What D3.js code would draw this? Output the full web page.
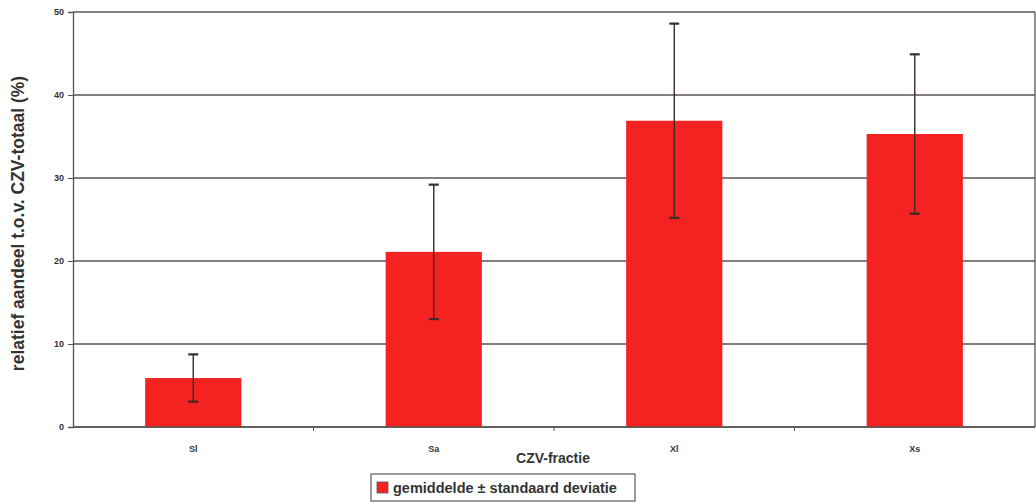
<!DOCTYPE html>
<html lang="nl">
<head>
    <meta charset="UTF-8">
    <title>CZV-fractie</title>
    <script src="https://d3js.org/d3.v7.min.js"></script>
    <style>
        body { margin: 0; background: #fff; }
        text { font-family: "Liberation Sans", Arial, sans-serif; font-weight: bold; fill: #333; }
    </style>
</head>
<body>
<script>
    const width  = 1036;
    const height = 504;

    const categories = ["Sl", "Sa", "Xl", "Xs"];
    const means      = [5.9, 21.1, 36.9, 35.3];
    const stdevs     = [2.85, 8.1, 11.7, 9.6];
    const yTicks     = [0, 10, 20, 30, 40, 50];

    const margin = {top: 12, right: 1, bottom: 77, left: 73};

    const data = categories.map((c, i) => ({cat: c, mean: means[i], sd: stdevs[i]}));

    const scaleX = d3.scaleBand()
                     .domain(categories)
                     .range([margin.left, width - margin.right])
                     .paddingInner(0.6)
                     .paddingOuter(0.3);

    const scaleY = d3.scaleLinear()
                     .domain([0, 50])
                     .range([height - margin.bottom, margin.top]);

    const svg = d3.select("body").append("svg").attr("width", width).attr("height", height);

    // gridlines
    svg.append("g")
       .selectAll("line")
       .data(yTicks)
       .join("line")
       .attr("x1", margin.left)
       .attr("x2", width - margin.right)
       .attr("y1", d => scaleY(d))
       .attr("y2", d => scaleY(d))
       .attr("stroke", "#5a5450")
       .attr("stroke-width", 1.3);

    // right border
    svg.append("line")
       .attr("x1", width - margin.right).attr("x2", width - margin.right)
       .attr("y1", scaleY(50)).attr("y2", scaleY(0))
       .attr("stroke", "#5a5450").attr("stroke-width", 1.3);

    // y axis
    const yAxis = svg.append("g")
       .attr("transform", `translate(${margin.left},0)`)
       .call(d3.axisLeft(scaleY).tickValues(yTicks).tickSize(5).tickPadding(4));
    yAxis.select(".domain").attr("stroke", "#5a5450").attr("stroke-width", 1.3);
    yAxis.selectAll(".tick line").attr("stroke", "#5a5450");
    yAxis.selectAll("text").style("font-size", "9px").attr("fill", "#444");

    // bars
    svg.append("g")
       .selectAll("rect")
       .data(data)
       .join("rect")
       .attr("x", d => scaleX(d.cat))
       .attr("width", scaleX.bandwidth())
       .attr("y", d => scaleY(d.mean))
       .attr("height", d => scaleY(0) - scaleY(d.mean))
       .attr("fill", "#f52222");

    // x axis (category boundaries as ticks)
    const xLine = svg.append("g");
    xLine.append("line")
         .attr("x1", margin.left).attr("x2", width - margin.right)
         .attr("y1", scaleY(0)).attr("y2", scaleY(0))
         .attr("stroke", "#5a5450").attr("stroke-width", 1.3);
    const step = scaleX.step();
    xLine.selectAll("line.tk")
         .data(categories.slice(1))
         .join("line")
         .attr("class", "tk")
         .attr("x1", d => scaleX(d) - scaleX.paddingInner() * step / 2)
         .attr("x2", d => scaleX(d) - scaleX.paddingInner() * step / 2)
         .attr("y1", scaleY(0)).attr("y2", scaleY(0) + 4)
         .attr("stroke", "#5a5450");

    svg.append("g")
       .selectAll("text")
       .data(categories)
       .join("text")
       .attr("x", d => scaleX(d) + scaleX.bandwidth() / 2)
       .attr("y", scaleY(0) + 25)
       .attr("text-anchor", "middle")
       .style("font-size", "9px")
       .text(d => d);

    // error bars
    const err = svg.append("g").attr("stroke", "#3b2c28").attr("stroke-width", 1.4);
    err.selectAll("line.v")
       .data(data)
       .join("line")
       .attr("class", "v")
       .attr("x1", d => scaleX(d.cat) + scaleX.bandwidth() / 2)
       .attr("x2", d => scaleX(d.cat) + scaleX.bandwidth() / 2)
       .attr("y1", d => scaleY(d.mean + d.sd))
       .attr("y2", d => scaleY(d.mean - d.sd));
    ["+", "-"].forEach(s => {
        err.selectAll("line.c" + (s === "+" ? "p" : "m"))
           .data(data)
           .join("line")
           .attr("class", "c" + (s === "+" ? "p" : "m"))
           .attr("x1", d => scaleX(d.cat) + scaleX.bandwidth() / 2 - 5)
           .attr("x2", d => scaleX(d.cat) + scaleX.bandwidth() / 2 + 5)
           .attr("y1", d => scaleY(s === "+" ? d.mean + d.sd : d.mean - d.sd))
           .attr("y2", d => scaleY(s === "+" ? d.mean + d.sd : d.mean - d.sd))
           .attr("stroke-width", 2.2);
    });

    // axis titles
    svg.append("text")
       .attr("transform", `translate(24,${(scaleY(0) + scaleY(50)) / 2 + 4}) rotate(-90)`)
       .attr("text-anchor", "middle")
       .style("font-size", "17.5px")
       .text("relatief aandeel t.o.v. CZV-totaal (%)");

    svg.append("text")
       .attr("x", 553)
       .attr("y", 463)
       .attr("text-anchor", "middle")
       .style("font-size", "14px")
       .text("CZV-fractie");

    // legend
    const lg = svg.append("g").attr("transform", "translate(371,474)");
    lg.append("rect").attr("width", 264).attr("height", 27)
      .attr("fill", "#fff").attr("stroke", "#6a6460").attr("stroke-width", 1.3);
    lg.append("rect").attr("x", 6).attr("y", 8).attr("width", 11).attr("height", 11)
      .attr("fill", "#f52222").attr("stroke", "#555").attr("stroke-width", 0.8);
    lg.append("text").attr("x", 22).attr("y", 18.5)
      .style("font-size", "14.5px")
      .text("gemiddelde ± standaard deviatie");
</script>
</body>
</html>
